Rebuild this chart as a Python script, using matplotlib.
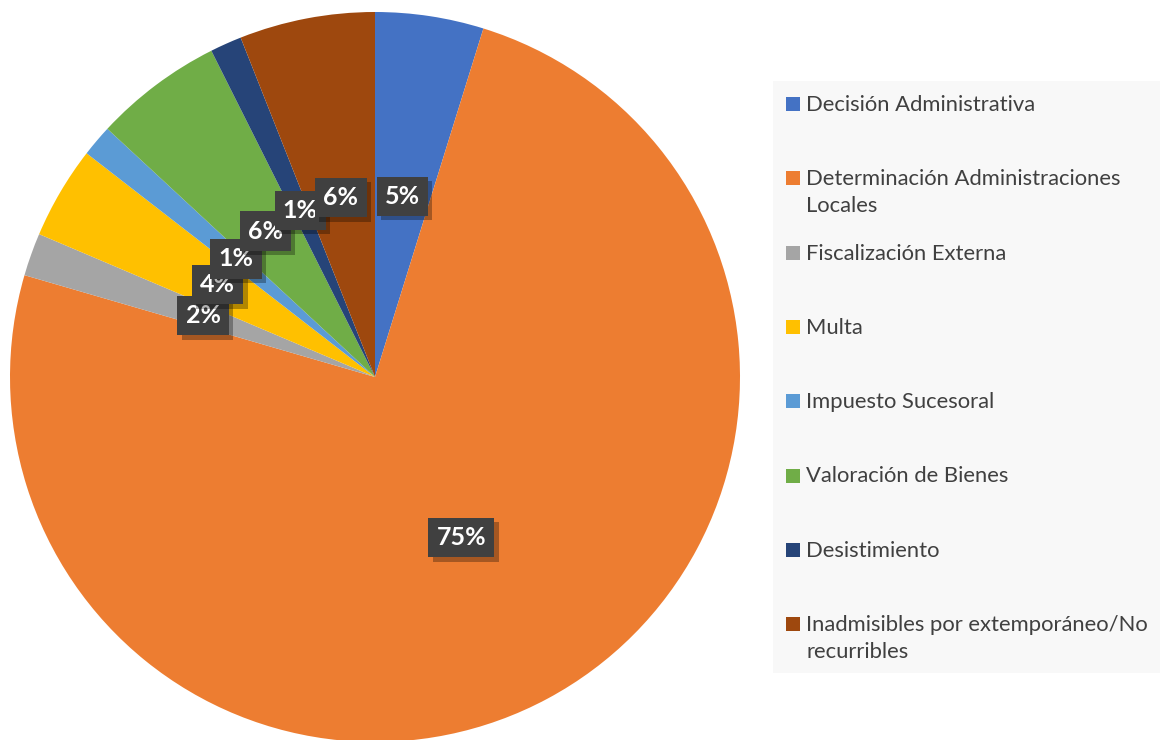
import matplotlib.pyplot as plt
import matplotlib.patheffects as pe
from matplotlib.patches import Rectangle

categories = [
    "Decisión Administrativa",
    "Determinación Administraciones\nLocales",
    "Fiscalización Externa",
    "Multa",
    "Impuesto Sucesoral",
    "Valoración de Bienes",
    "Desistimiento",
    "Inadmisibles por extemporáneo/No\nrecurribles",
]
shares = [4.8, 74.7, 1.9, 4.1, 1.4, 5.7, 1.4, 6.0]
colors = ["#4472C4", "#ED7D31", "#A5A5A5", "#FFC000",
          "#5B9BD5", "#70AD47", "#264478", "#9E480E"]

plt.rcParams['font.family'] = ['Lato', 'DejaVu Sans']

W, H = 1160, 740
fig = plt.figure(figsize=(W / 100, H / 100), dpi=100)

# pie axes: centre (375, 377) px, radius 365 px
cx, cy, r = 375, 377, 365
ax = fig.add_axes([(cx - r) / W, (H - cy - r) / H, 2 * r / W, 2 * r / H])
wedges, texts, autotexts = ax.pie(
    shares, colors=colors, startangle=90, counterclock=False,
    autopct='%.0f%%', pctdistance=0.5,
    wedgeprops=dict(linewidth=0),
    textprops=dict(color='white', fontsize=18, fontweight='bold'))
ax.set_xlim(-1, 1)
ax.set_ylim(-1, 1)
ax.axis('off')

for t in autotexts:
    t.set_zorder(5)
    t.set_bbox(dict(boxstyle='square,pad=0.33', facecolor='#404040',
                    edgecolor='none', linewidth=0))
    t.get_bbox_patch().set_path_effects(
        [pe.SimplePatchShadow(offset=(3, -3), shadow_rgbFace='black', alpha=0.3),
         pe.Normal()])

# legend panel (pixel coordinates, y downward)
lx0, ly0, lx1, ly1 = 773, 81, 1160, 673
lax = fig.add_axes([lx0 / W, (H - ly1) / H, (lx1 - lx0) / W, (ly1 - ly0) / H])
lax.set_xlim(0, lx1 - lx0)
lax.set_ylim(ly1 - ly0, 0)
lax.set_facecolor('#f8f8f8')
for s in lax.spines.values():
    s.set_visible(False)
lax.set_xticks([])
lax.set_yticks([])

step = 74.3
for i, (name, col) in enumerate(zip(categories, colors)):
    base = 30 + i * step
    lax.add_patch(Rectangle((13, base - 14), 14, 14, facecolor=col, edgecolor='none'))
    for k, line in enumerate(name.split('\n')):
        lax.text(33, base + k * 27, line, ha='left', va='baseline',
                 fontsize=15.8, color='#404040')

fig.savefig('out.png', dpi=100)
